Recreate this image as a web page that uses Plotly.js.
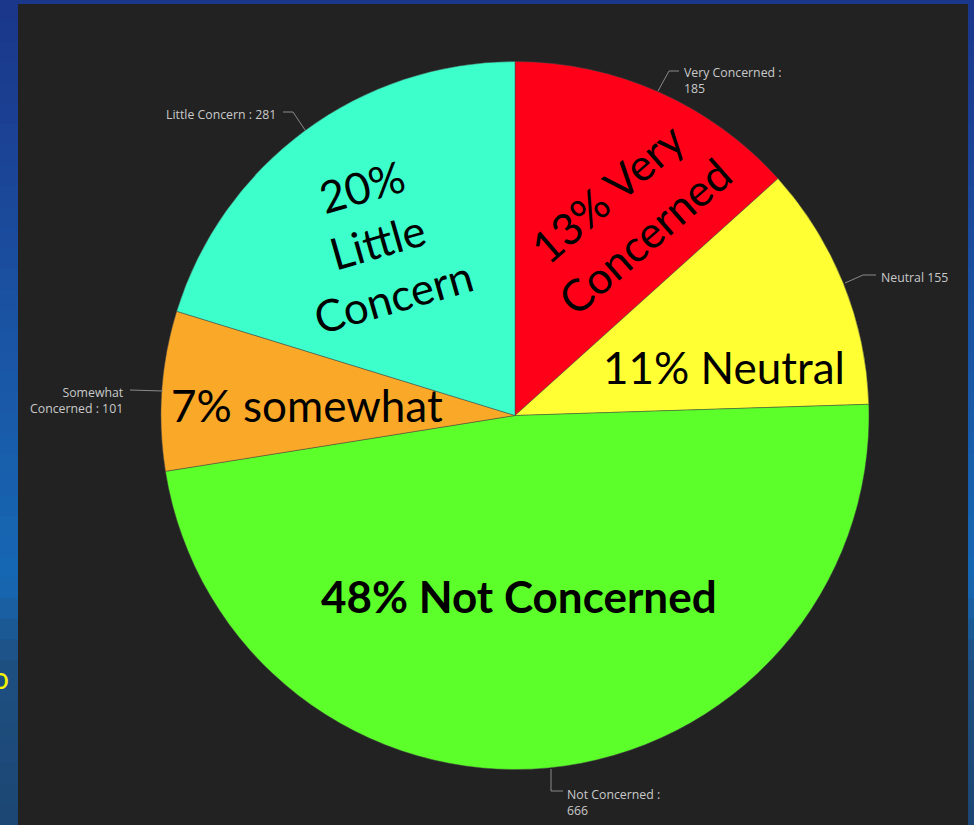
<!DOCTYPE html>
<html>
<head>
<meta charset="utf-8">
<script src="https://cdn.plot.ly/plotly-3.0.1.min.js"></script>
<style>html,body{margin:0;padding:0;background:#1b3a8c;}#chart{width:974px;height:825px;}</style>
</head>
<body>
<div id="chart"></div>
<script>
// ---- data ----
const categories = ["Very Concerned", "Neutral", "Not Concerned", "Somewhat Concerned", "Little Concern"];
const counts = [185, 155, 666, 101, 281];
const sliceColors = ["#ff0019", "#ffff33", "#5cff29", "#f9a828", "#3dffcc"];
const insideLabels = ["13% Very<br>Concerned", "11% Neutral", "<b>48% Not Concerned</b>", "7% somewhat", "20%<br>Little<br>Concern"];
const outsideLabels = ["Very Concerned :<br>185", "Neutral 155", "Not Concerned :<br>666", "Somewhat<br>Concerned : 101", "Little Concern : 281"];

// ---- layout helpers ----
const W = 974, H = 825;
const px = x => x / W;
const py = y => 1 - y / H;

const cx = 515, cy = 415.5, R = 354;

// background gradient bands (slide background)
const stops = [[0, [27, 54, 138]], [0.35, [27, 80, 160]], [0.7, [22, 104, 180]], [0.8, [30, 80, 130]], [1, [28, 70, 115]]];
function colAt(t) {
  for (let i = 0; i < stops.length - 1; i++) {
    const [t0, c0] = stops[i], [t1, c1] = stops[i + 1];
    if (t >= t0 && t <= t1) {
      const f = (t - t0) / (t1 - t0);
      return 'rgb(' + c0.map((v, k) => Math.round(v + (c1[k] - v) * f)).join(',') + ')';
    }
  }
  return 'rgb(28,70,115)';
}
const shapes = [];
const N = 40;
for (let i = 0; i < N; i++) {
  shapes.push({type: 'rect', xref: 'paper', yref: 'paper', x0: 0, x1: 1,
    y0: py((i + 1) * H / N + 2), y1: py(i * H / N), fillcolor: colAt((i + 0.5) / N),
    line: {width: 0}, layer: 'below'});
}
shapes.push({type: 'rect', xref: 'paper', yref: 'paper', x0: px(18), x1: px(968), y0: 0, y1: py(4),
  fillcolor: '#222222', line: {width: 0}, layer: 'below'});

// leader lines
const leaders = [
  [[658, 91], [669, 71], [679, 71]],
  [[845, 283], [863, 275], [876, 275]],
  [[551, 769], [551, 791], [563, 791]],
  [[163, 391], [130, 390]],
  [[305, 130], [293, 112], [283, 112]]
];
leaders.forEach(pts => {
  for (let i = 0; i < pts.length - 1; i++) {
    shapes.push({type: 'line', xref: 'paper', yref: 'paper',
      x0: px(pts[i][0]), y0: py(pts[i][1]), x1: px(pts[i + 1][0]), y1: py(pts[i + 1][1]),
      line: {color: '#8a8a8a', width: 1}, layer: 'above'});
  }
});

const bigFont = {family: 'Lato, "Open Sans", sans-serif', size: 44, color: '#000000'};
const smallFont = {family: '"Open Sans", "Noto Sans", sans-serif', size: 12.3, color: '#c9c9c9'};

// inside label placement (center px, rotation)
const insidePos = [
  {x: 625, y: 214, a: -41},
  {x: 724, y: 367, a: 0},
  {x: 519, y: 596, a: 0},
  {x: 307, y: 405, a: 0},
  {x: 377, y: 241, a: -16}
];
const outsidePos = [
  {x: 682, y: 81, xa: 'left', al: 'left'},
  {x: 879, y: 278, xa: 'left', al: 'left'},
  {x: 565, y: 802, xa: 'left', al: 'left'},
  {x: 126, y: 400, xa: 'right', al: 'right'},
  {x: 278, y: 114, xa: 'right', al: 'right'}
];

const annotations = [];
insideLabels.forEach((t, i) => {
  annotations.push({text: t, xref: 'paper', yref: 'paper', x: px(insidePos[i].x), y: py(insidePos[i].y),
    xanchor: 'center', yanchor: 'middle', textangle: insidePos[i].a, showarrow: false,
    font: bigFont, align: 'center'});
});
outsideLabels.forEach((t, i) => {
  annotations.push({text: t, xref: 'paper', yref: 'paper', x: px(outsidePos[i].x), y: py(outsidePos[i].y),
    xanchor: outsidePos[i].xa, yanchor: 'middle', showarrow: false, font: smallFont, align: outsidePos[i].al});
});
// cut-off slide text at the left edge
annotations.push({text: 'o', xref: 'paper', yref: 'paper', x: px(11), y: py(677), xanchor: 'right', yanchor: 'middle',
  showarrow: false, font: {family: 'Lato, sans-serif', size: 30, color: '#f5f500'}});

const trace = {
  type: 'pie',
  labels: categories,
  values: counts,
  marker: {colors: sliceColors, line: {color: 'rgba(70,70,70,0.6)', width: 0.8}},
  sort: false,
  direction: 'clockwise',
  rotation: 0,
  textinfo: 'none',
  hoverinfo: 'none',
  showlegend: false,
  domain: {x: [px(cx - R), px(cx + R)], y: [py(cy + R), py(cy - R)]}
};

const layout = {
  width: W, height: H,
  margin: {l: 0, r: 0, t: 0, b: 0},
  paper_bgcolor: '#1b3a8c',
  showlegend: false,
  shapes: shapes,
  annotations: annotations
};

Plotly.newPlot('chart', [trace], layout, {displayModeBar: false, staticPlot: true});
</script>
</body>
</html>
